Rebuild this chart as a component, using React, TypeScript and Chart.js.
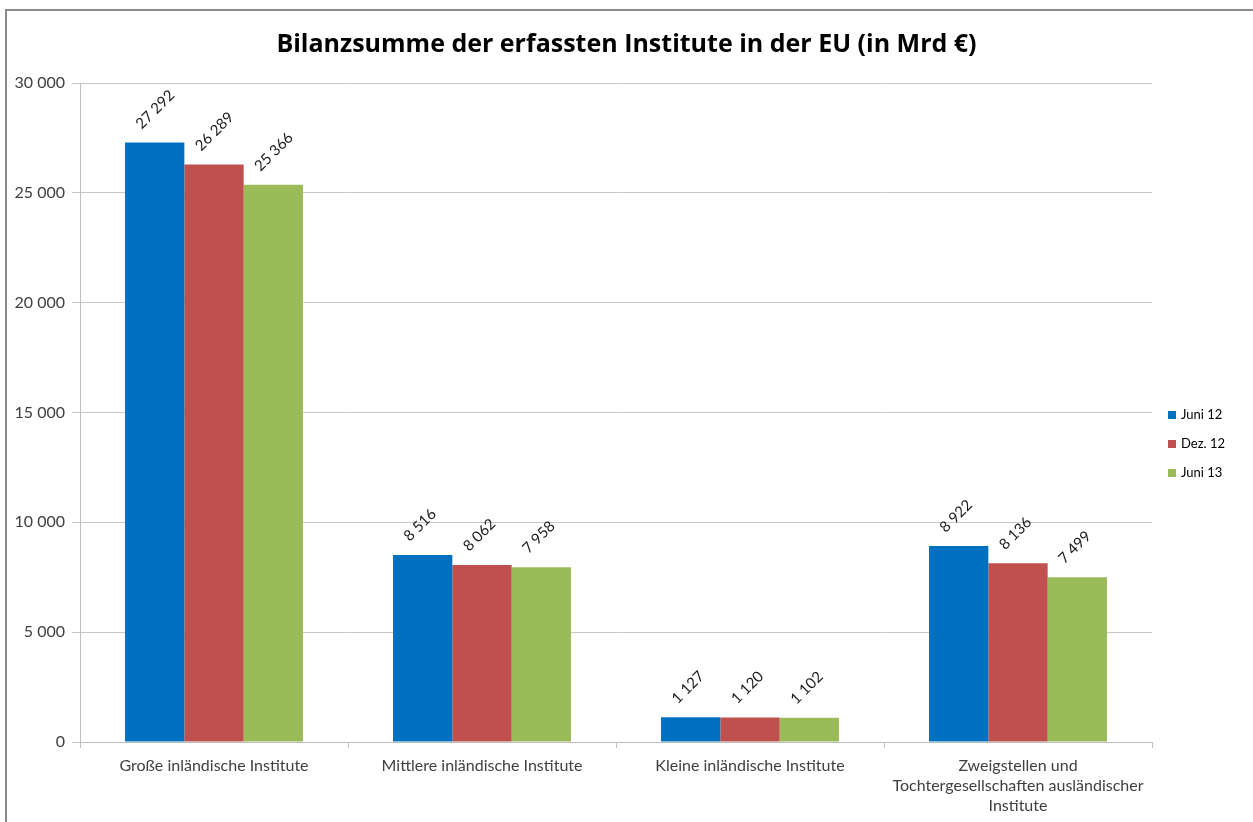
import React, { useEffect, useRef } from "react";
import { Chart, registerables } from "chart.js";

Chart.register(...registerables);

const titleText = "Bilanzsumme der erfassten Institute in der EU (in Mrd €)";
const categories: (string | string[])[] = [
  "Große inländische Institute",
  "Mittlere inländische Institute",
  "Kleine inländische Institute",
  ["Zweigstellen und", "Tochtergesellschaften ausländischer", "Institute"],
];
const seriesNames = ["Juni 12", "Dez. 12", "Juni 13"];
const juni12 = [27292, 8516, 1127, 8922];
const dez12 = [26289, 8062, 1120, 8136];
const juni13 = [25366, 7958, 1102, 7499];
const seriesColors = ["#0070C0", "#C0504D", "#9BBB59"];
const yMin = 0;
const yMax = 30000;
const yStep = 5000;

const FONT = "Lato";

function fmt(v: number): string {
  return String(v).replace(/\B(?=(\d{3})+(?!\d))/g, " ");
}

const dataLabelPlugin = {
  id: "dataLabels",
  afterDatasetsDraw(chart: any) {
    const ctx = chart.ctx;
    ctx.save();
    ctx.font = `15px ${FONT}`;
    ctx.fillStyle = "#1a1a1a";
    ctx.textAlign = "left";
    ctx.textBaseline = "middle";
    chart.data.datasets.forEach((ds: any, di: number) => {
      const meta = chart.getDatasetMeta(di);
      meta.data.forEach((el: any, i: number) => {
        const v = ds.data[i] as number;
        ctx.save();
        ctx.translate(el.x, el.y);
        ctx.rotate(-Math.PI / 4);
        ctx.fillText(fmt(v), 0, -23);
        ctx.restore();
      });
    });
    ctx.restore();
  },
};

const legendPlugin = {
  id: "sideLegend",
  afterDraw(chart: any) {
    const ctx = chart.ctx;
    ctx.save();
    ctx.font = `13px ${FONT}`;
    ctx.textAlign = "left";
    ctx.textBaseline = "middle";
    const x0 = chart.chartArea.right + 16;
    const y0 = 415;
    chart.data.datasets.forEach((ds: any, di: number) => {
      const y = y0 + di * 29;
      ctx.fillStyle = ds.backgroundColor;
      ctx.fillRect(x0, y - 4, 8, 8);
      ctx.fillStyle = "#000";
      ctx.fillText(ds.label, x0 + 13, y);
    });
    ctx.restore();
  },
};

export default function App() {
  const canvasRef = useRef<HTMLCanvasElement | null>(null);

  useEffect(() => {
    if (!canvasRef.current) return;
    const datasets = [juni12, dez12, juni13].map((d, i) => ({
      label: seriesNames[i],
      data: d,
      backgroundColor: seriesColors[i],
      borderWidth: 0,
      categoryPercentage: 0.664,
      barPercentage: 1.0,
    }));
    const chart = new Chart(canvasRef.current, {
      type: "bar",
      data: { labels: categories as any, datasets },
      options: {
        responsive: false,
        animation: false,
        devicePixelRatio: 1,
        layout: { padding: { left: 0, right: 0, top: 0, bottom: 0 } },
        plugins: {
          legend: { display: false },
          tooltip: { enabled: false },
          title: {
            display: true,
            text: titleText,
            color: "#000",
            font: { family: "Open Sans", size: 25, weight: "bold", lineHeight: 1.2 },
            padding: { top: 30, bottom: 23 },
          },
        },
        scales: {
          x: {
            grid: {
              display: true,
              drawOnChartArea: false,
              drawTicks: true,
              tickLength: 6,
              color: "#BFBFBF",
              offset: true,
            },
            border: { display: true, color: "#BFBFBF" },
            ticks: {
              color: "#404040",
              font: { family: FONT, size: 16, lineHeight: 20 / 16 },
              padding: 8,
              maxRotation: 0,
              autoSkip: false,
            },
            afterFit: (s: any) => {
              s.height = 80;
            },
          },
          y: {
            min: yMin,
            max: yMax,
            ticks: {
              stepSize: yStep,
              color: "#404040",
              font: { family: FONT, size: 16 },
              padding: 7,
              callback: (v: any) => fmt(Number(v)),
            },
            grid: {
              color: "#C8C8C8",
              drawTicks: true,
              tickLength: 8,
            },
            border: { display: true, color: "#BFBFBF" },
            afterFit: (s: any) => {
              s.width = 80;
            },
          },
          spacer: {
            type: "linear",
            position: "right",
            display: true,
            grid: { display: false, drawTicks: false },
            border: { display: false },
            ticks: { display: false },
            afterFit: (s: any) => {
              s.width = 101;
            },
          },
        } as any,
      },
      plugins: [dataLabelPlugin, legendPlugin],
    });
    return () => chart.destroy();
  }, []);

  return (
    <div
      style={{
        position: "fixed",
        left: 0,
        top: 0,
        width: 1253,
        height: 822,
        background: "#fff",
        overflow: "hidden",
      }}
    >
      <div
        style={{
          position: "absolute",
          left: 5,
          top: 9,
          width: 1300,
          height: 900,
          borderLeft: "2px solid #8c8c8c",
          borderTop: "2px solid #8c8c8c",
        }}
      />
      <canvas
        ref={canvasRef}
        width={1253}
        height={822}
        style={{ position: "absolute", left: 0, top: 0, width: 1253, height: 822 }}
      />
    </div>
  );
}
